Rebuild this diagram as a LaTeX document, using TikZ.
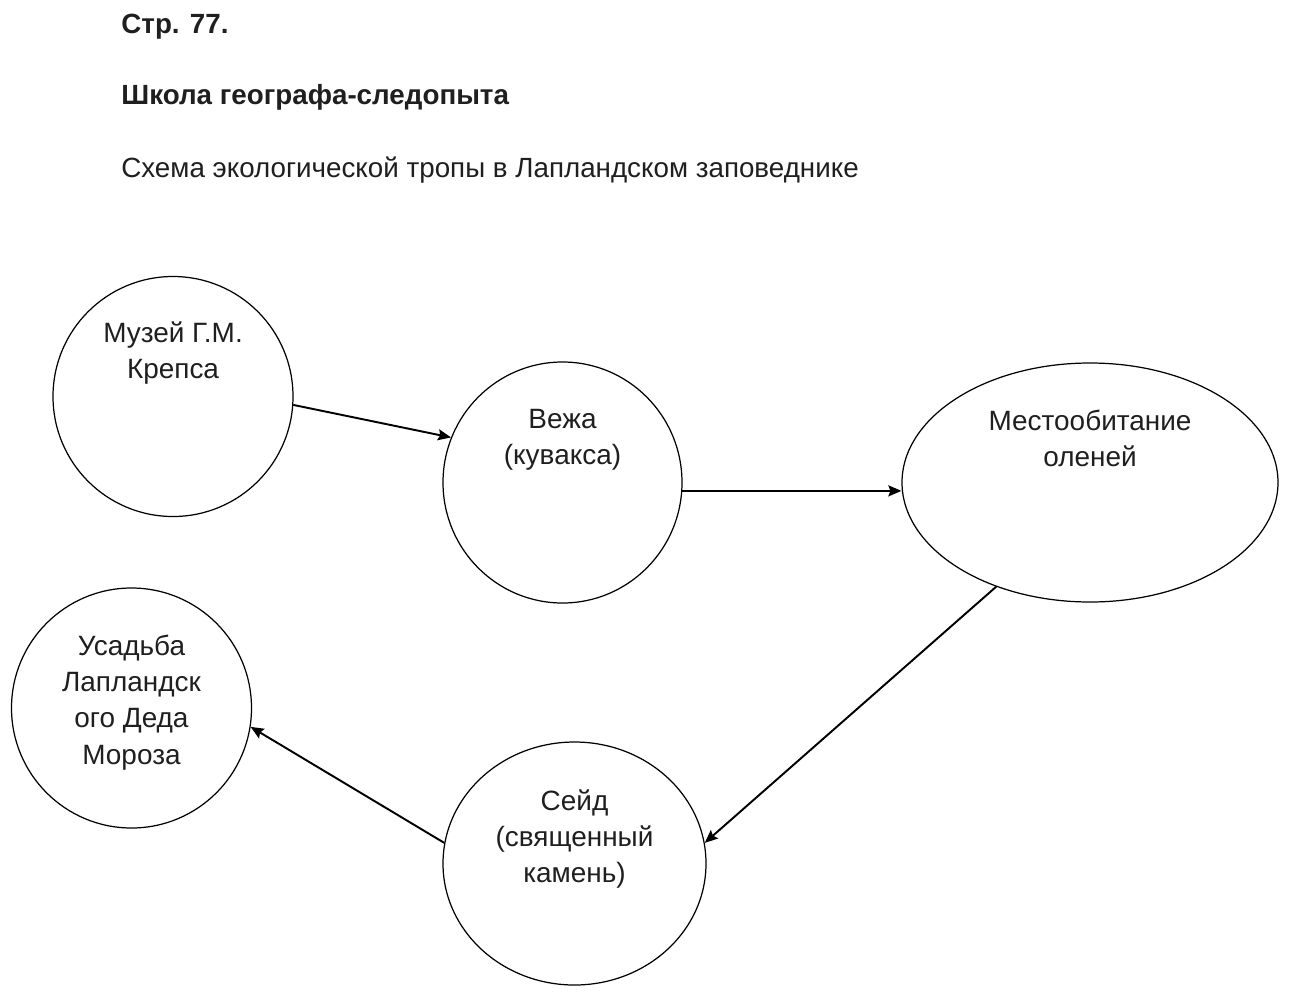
\documentclass[tikz,border=0pt]{standalone}
\usepackage{fontspec}
\setmainfont{Liberation Sans}
\usetikzlibrary{calc}
\usetikzlibrary{shapes.geometric}
\usetikzlibrary{arrows.meta}

\tikzset{
  stop/.style={draw, ellipse, line width=0.7pt, inner sep=0pt},
  stoptext/.style={align=center, inner sep=0pt, text=black!88,
    font=\fontsize{15.9}{20.6}\selectfont},
  headtext/.style={anchor=base west, inner sep=0pt, text=black!88},
  route/.style={line width=1.1pt, -{Stealth[length=2.6mm,width=2.2mm,inset=0.4mm]}},
}

\begin{document}
\begin{tikzpicture}
            % Page size of the scan
            \useasboundingbox (0,0) rectangle (25.78,-20);

            % Headings
            \node[headtext, font=\bfseries\fontsize{15.8}{18}\selectfont] (page) at (2.42,-0.66) {Стр. 77.};
            \node[headtext, font=\bfseries\fontsize{15.8}{18}\selectfont] (school) at (2.42,-2.08) {Школа географа-следопыта};
            \node[headtext, font=\fontsize{15.8}{18}\selectfont] (caption) at (2.42,-3.54) {Схема экологической тропы в Лапландском заповеднике};

            % Centres of the stops
            \coordinate (C1) at (3.46,-7.93);
            \coordinate (C2) at (11.25,-9.65);
            \coordinate (C3) at (21.80,-9.65);
            \coordinate (C4) at (2.63,-14.16);
            \coordinate (C5) at (11.49,-17.27);

            % Draw the stops
            \node[stop, minimum width=4.8cm, minimum height=4.8cm] (muzej) at (C1) {};
            \node[stop, minimum width=4.78cm, minimum height=4.82cm] (vezha) at (C2) {};
            \node[stop, minimum width=7.52cm, minimum height=4.78cm] (mesto) at (C3) {};
            \node[stop, minimum width=4.8cm, minimum height=4.8cm] (usadba) at (C4) {};
            \node[stop, minimum width=5.26cm, minimum height=4.86cm] (sejd) at (C5) {};

            % Names of the stops
            \node[stoptext] (muzejtxt) at ($(C1)+(0,0.87)$) {Музей Г.М.\\Крепса};
            \node[stoptext] (vezhatxt) at ($(C2)+(0,0.86)$) {Вежа\\(кувакса)};
            \node[stoptext] (mestotxt) at ($(C3)+(0,0.89)$) {Местообитание\\оленей};
            \node[stoptext] (usadbatxt) at ($(C4)+(0,0.11)$) {Усадьба\\Лапландск\\ого Деда\\Мороза};
            \node[stoptext] (sejdtxt) at ($(C5)+(0,0.49)$) {Сейд\\(священный\\камень)};

            % Draw the route
            \draw[route] (muzej.-4) -- (vezha.158);
            \draw[route] (vezha.-4) -- (vezha.-4 -| mesto.west);
            \draw[route] (mesto.228.6) -- (sejd.9);
            \draw[route] (sejd.171) -- (usadba.-9);

        \end{tikzpicture}
\end{document}
